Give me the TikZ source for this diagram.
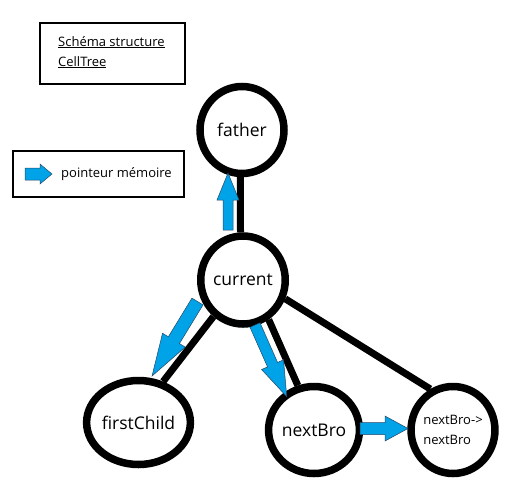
\documentclass[tikz,border=0pt]{standalone}
\usepackage{fontspec}
\setmainfont{Open Sans}
\usetikzlibrary{shapes.geometric}
\definecolor{ptrblue}{RGB}{0,162,232}
\definecolor{ptredge}{RGB}{40,70,100}

\tikzset{
  cell/.style={ellipse, draw, line width=7.5pt, fill=white, inner sep=0pt, font=\fontsize{17.5}{20}\selectfont},
  link/.style={line width=7pt},
  ptr/.style={fill=ptrblue, draw=ptredge, line width=0.5pt},
  frame/.style={line width=1.3pt},
  small/.style={font=\fontsize{13}{20}\selectfont}
}

% block arrow: tail, angle, length, half shaft, half head, head length
\newcommand{\pointer}[6]{%
  \begin{scope}[shift={#1}, rotate=#2]
    \draw[ptr] (0,-#4) -- ({#3-#6},-#4) -- ({#3-#6},-#5) -- (#3,0) -- ({#3-#6},#5) -- ({#3-#6},#4) -- (0,#4) -- cycle;
  \end{scope}}

\begin{document}
\begin{tikzpicture}[x=1pt, y=-1pt]
    \useasboundingbox (0,0) rectangle (508,488);

    % Title box
    \draw[frame] (40,23) rectangle (185,84);
    \node[small, anchor=base west, inner sep=0pt] (title1) at (58,46) {\underline{Schéma structure}};
    \node[small, anchor=base west, inner sep=0pt] (title2) at (58,66) {\underline{CellTree}};

    % Legend box
    \draw[frame] (13,151) rectangle (184,197);
    \pointer{(25,174)}{0}{27}{6}{10}{12}
    \node[small, anchor=west, inner sep=0pt] (legend) at (61,174) {pointeur mémoire};

    % Cells
    \node[cell, minimum width=84pt, minimum height=87pt] (father) at (242,130) {father};
    \node[cell, minimum width=83pt, minimum height=88pt] (current) at (243,280) {current};
    \node[cell, minimum width=80pt, minimum height=84pt] (firstchild) at (138.5,422.5) {firstChild};
    \node[cell, minimum width=81pt, minimum height=87pt] (nextbro) at (314,430) {nextBro};
    \node[cell, small, align=left, minimum width=83pt, minimum height=87pt] (nextnext) at (453,430) {nextBro->\\nextBro};

    % Links
    \draw[link] (father.268) -- (current.93);
    \draw[link] (current.231) -- (firstchild.59);
    \draw[link] (current.-57) -- (nextbro.110);
    \draw[link] (current.-24) -- (nextnext.119);

    % Pointers
    \pointer{(228,230)}{90}{57}{5}{11}{27}
    \pointer{(197.5,301.5)}{238.6}{87.3}{6.5}{13.3}{42}
    \pointer{(255,325)}{-66.1}{78.4}{5.5}{12}{35}
    \pointer{(360,428.5)}{0}{48}{6}{12.5}{23}
\end{tikzpicture}
\end{document}
